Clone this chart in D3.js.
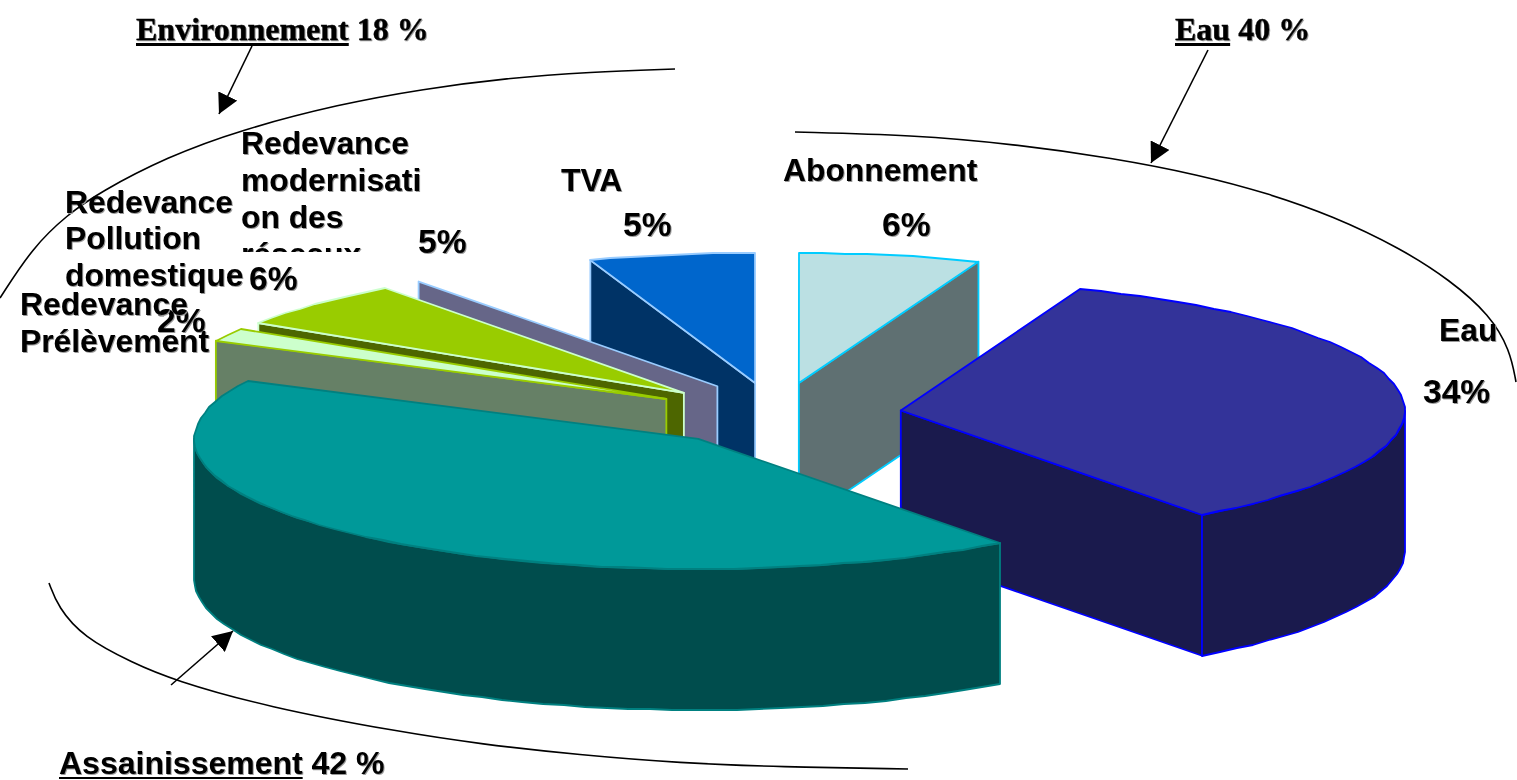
<!DOCTYPE html>
<html><head><meta charset="utf-8">
<script src="https://cdnjs.cloudflare.com/ajax/libs/d3/7.8.5/d3.min.js"></script>
<style>
html,body{margin:0;padding:0;background:#fff;overflow:hidden}
text{fill:#000;font-weight:700}
.lab{font-family:"Liberation Sans",Arial,sans-serif;filter:drop-shadow(1.5px 1.5px .6px #999)}
.hdr{font-family:"Liberation Serif","Times New Roman",serif;filter:drop-shadow(1.5px 1.5px .6px #999);stroke:#000;stroke-width:.35px}
</style></head><body>
<svg id="c" width="1517" height="780"></svg>
<script>
// ---- data ----
const categories = ["Abonnement","Eau","Assainissement","Redevance Prélèvement","Redevance Pollution domestique","Redevance modernisation des réseaux","TVA"];
const values = [5.8,34.0,42.6,1.6,5.9,4.8,5.3];
const explodeShares = [0.25,0.25,0.24,0.25,0.25,0.25,0.25];
const topColors = ["#bbe0e3","#333399","#009999","#ccffcc","#99cc00","none","#0066cc"];
const sideColors = ["#5f7072","#1a1a4d","#004d4d","#668066","#4d6600","#666688","#003366"];
const edgeColors = ["#00ccff","#0000ff","#008080","#99cc00","#ccffcc","#99ccff","#99ccff"];
const paintOrder = [0,6,5,4,3,1,2];
const groupTitles = [["Environnement"," 18 %"],["Eau"," 40 %"],["Assainissement"," 42 %"]];
const envCurve = [[0,298],[33,247],[67,215],[100,192],[167,157],[240,130],[340,104],[423,89],[507,78],[590,72],[675,69]];
const eauCurve = [[795,132],[913,135],[1013,144],[1113,158],[1200,175],[1267,193],[1333,216],[1400,248],[1450,280],[1490,315],[1510,350],[1516,382]];
const assCurve = [[49,583],[58,607],[83,637],[133,663],[173,680],[267,707],[400,732],[480,744],[580,755],[680,763],[780,767],[908,769]];

// ---- layout ----
const svg = d3.select("#c");
const x = d3.scaleLinear().domain([-1,1]).range([776-504,776+504]);
const y = d3.scaleLinear().domain([-1,1]).range([414-130,414+130]);
const depth = 141, step = Math.PI/72;
const pie = d3.pie().sort(null).value(d=>d)(values);
const line = d3.line();
const pct = d3.format(".0f");

function apex(d){const m=(d.startAngle+d.endAngle)/2,e=explodeShares[d.index];return [x(e*Math.sin(m)),y(-e*Math.cos(m))+1];}
function rim(a,t){return [a[0]+x(Math.sin(t))-x(0), a[1]-(y(Math.cos(t))-y(0))];}
function arcPts(a,t0,t1){
  const n=Math.max(1,Math.round((t1-t0)/step));
  return d3.range(n+1).map(i=>{const p=rim(a,t0+(t1-t0)*i/n);return [Math.round(p[0]),Math.round(p[1])];});
}
const down=p=>[p[0],p[1]+depth];
const chart=svg.append("g");
paintOrder.forEach(i=>{
  const d=pie[i], a=apex(d), g=chart.append("g");
  const wall=pts=>g.append("path").attr("d",line(pts.concat(pts.slice().reverse().map(down)))+"Z")
    .attr("fill",sideColors[i]).attr("stroke",edgeColors[i]).attr("stroke-width",1.8).attr("stroke-linejoin","round");
  if(d.endAngle<Math.PI) wall([a,rim(a,d.endAngle)]);
  if(d.startAngle>=Math.PI) wall([a,rim(a,d.startAngle)]);
  const r0=Math.max(d.startAngle,Math.PI/2), r1=Math.min(d.endAngle,3*Math.PI/2);
  if(r1>r0) wall(arcPts(a,r0,r1));
  if(topColors[i]!=="none"){
    g.append("path").attr("d",line([a].concat(arcPts(a,d.startAngle,d.endAngle)))+"Z")
      .attr("fill",topColors[i]).attr("stroke",edgeColors[i]).attr("stroke-width",1.8).attr("stroke-linejoin","round");
  }
});

// ---- annotations ----
svg.append("defs").append("marker").attr("id","ah").attr("markerUnits","userSpaceOnUse")
  .attr("viewBox","0 0 20 21").attr("refX",20).attr("refY",10.5).attr("markerWidth",20).attr("markerHeight",21).attr("orient","auto")
  .append("path").attr("d","M0,0L20,10.5L0,21Z").attr("fill","#000");
svg.select("defs").append("clipPath").attr("id","cut").append("rect").attr("x",0).attr("y",0).attr("width",1517).attr("height",252);
const curve=d3.line().curve(d3.curveBasis);
[envCurve,eauCurve,assCurve].forEach(c=>svg.append("path").attr("d",curve(c)).attr("fill","none").attr("stroke","#000").attr("stroke-width",1.6));
const arrows=[[[252,46],[219,114]],[[1208,50],[1151,163]],[[171,685],[233,631]]];
arrows.forEach(p=>svg.append("line").attr("x1",p[0][0]).attr("y1",p[0][1]).attr("x2",p[1][0]).attr("y2",p[1][1])
  .attr("stroke","#000").attr("stroke-width",1.6).attr("marker-end","url(#ah)"));

// ---- text ----
function lab(parent,str,px,py,size){return parent.append("text").attr("class","lab").attr("x",px).attr("y",py).attr("font-size",size).text(str);}
const L=31.8,P=33.5;
lab(svg,"Abonnement",783,181,L);
lab(svg,pct(values[0])+"%",882,236,P);
lab(svg,"TVA",561,191,L);
lab(svg,pct(values[6])+"%",623,236,P);
lab(svg,"Eau",1439,341,L);
lab(svg,pct(values[1])+"%",1423,403,P);
const mg=svg.append("g").attr("clip-path","url(#cut)");
["Redevance","modernisati","on des","réseaux"].forEach((s,i)=>lab(mg,s,241,[154,191,228,265][i],L));
lab(svg,pct(values[5])+"%",418,253,P);
["Redevance","Pollution","domestique"].forEach((s,i)=>lab(svg,s,65,[213,249,286][i],L));
lab(svg,pct(values[4])+"%",249,290,P);
lab(svg,pct(values[3])+"%",157,332,P);
["Redevance","Prélèvement"].forEach((s,i)=>lab(svg,s,20,[315,352][i],L));

function hdr(t,px,py,cls,size,uy,uw){
  const e=svg.append("text").attr("class",cls).attr("x",px).attr("y",py).attr("font-size",size);
  const a=e.append("tspan").text(t[0]);
  e.append("tspan").text(t[1]);
  svg.append("line").attr("x1",px).attr("x2",px+a.node().getComputedTextLength()).attr("y1",uy).attr("y2",uy)
    .attr("stroke","#000").attr("stroke-width",uw);
}
hdr(groupTitles[0],136,40,"hdr",32,44.5,3);
hdr(groupTitles[1],1175,40,"hdr",32,44.5,3);
hdr(groupTitles[2],59,774,"lab",32,778,2);
</script>
</body></html>
